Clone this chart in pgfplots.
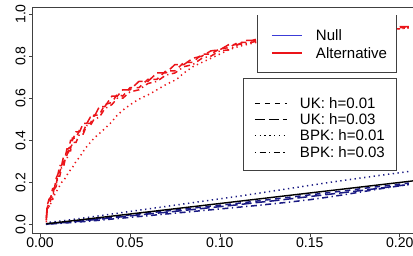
\documentclass[border=0pt]{standalone}
\usepackage{pgfplots}
\pgfplotsset{compat=1.18}
\usepackage{fontspec}
\setmainfont{Liberation Sans}
\definecolor{nullc}{RGB}{25,25,130}
\definecolor{nulll}{RGB}{60,60,215}
\definecolor{altc}{RGB}{235,20,25}
\tikzset{
 uk1/.style={dash pattern=on 5.5pt off 4.5pt},
 uk3/.style={dash pattern=on 10pt off 4pt},
 bpk1/.style={dash pattern=on 1.3pt off 3.5pt},
 bpk3/.style={dash pattern=on 1.3pt off 3.5pt on 6pt off 3.5pt},
}
\begin{document}
\begin{tikzpicture}
\begin{axis}[width=381pt, height=226pt, scale only axis,
 xmin=-0.0044, xmax=0.2079, ymin=-0.0429, ymax=1.0333,
 xtick={0,0.05,0.1,0.15,0.2}, xticklabels={0.00,0.05,0.10,0.15,0.20},
 ytick={0,0.2,0.4,0.6,0.8,1.0}, yticklabels={0.0,0.2,0.4,0.6,0.8,1.0},
 tick align=outside, major tick length=3pt, xtick pos=bottom, ytick pos=left,
 axis line style={black!75, line width=0.6pt}, tick style={black!75, line width=0.6pt},
 /pgf/number format/assume math mode=true,
 ticklabel style={font=\fontsize{14}{14}\selectfont},
 yticklabel style={rotate=90, anchor=south},
 xticklabel style={inner sep=1pt},
]
% Null curves
\addplot[nullc, line width=1.5pt, uk1] coordinates {(0.0035,0)(0.004,0.004)(0.01,0.008)(0.02,0.016)(0.03,0.026)(0.04,0.036)(0.05,0.046)(0.06,0.055)(0.07,0.064)(0.08,0.073)(0.09,0.083)(0.10,0.092)(0.11,0.101)(0.12,0.111)(0.13,0.121)(0.14,0.131)(0.15,0.141)(0.16,0.151)(0.17,0.161)(0.18,0.172)(0.19,0.182)(0.20,0.192)(0.205,0.197)};
\addplot[nullc, line width=1.5pt, uk3] coordinates {(0.0035,0)(0.004,0.003)(0.01,0.007)(0.02,0.014)(0.03,0.023)(0.04,0.032)(0.05,0.041)(0.06,0.05)(0.07,0.058)(0.08,0.067)(0.09,0.076)(0.10,0.085)(0.11,0.094)(0.12,0.104)(0.13,0.113)(0.14,0.123)(0.15,0.133)(0.16,0.143)(0.17,0.153)(0.18,0.163)(0.19,0.174)(0.20,0.185)(0.205,0.19)};
\addplot[nullc, line width=1.5pt, bpk1] coordinates {(0.0035,0)(0.004,0.01)(0.01,0.015)(0.02,0.026)(0.03,0.038)(0.04,0.05)(0.05,0.062)(0.06,0.074)(0.07,0.086)(0.08,0.098)(0.09,0.11)(0.10,0.122)(0.11,0.134)(0.12,0.147)(0.13,0.16)(0.14,0.173)(0.15,0.186)(0.16,0.199)(0.17,0.211)(0.18,0.223)(0.19,0.235)(0.20,0.246)(0.205,0.252)};
\addplot[nullc, line width=1.5pt, bpk3] coordinates {(0.0035,0)(0.004,0.002)(0.01,0.005)(0.02,0.011)(0.03,0.018)(0.04,0.026)(0.05,0.034)(0.06,0.042)(0.07,0.05)(0.08,0.058)(0.09,0.066)(0.10,0.074)(0.11,0.082)(0.12,0.09)(0.13,0.099)(0.14,0.108)(0.15,0.118)(0.16,0.13)(0.17,0.143)(0.18,0.157)(0.19,0.171)(0.20,0.184)(0.205,0.19)};
% reference diagonal
\addplot[black, line width=1.4pt] coordinates {(0.0035,0.0035)(0.2079,0.2079)};
% Alternative curves
\addplot[altc, line width=1.5pt, uk1] coordinates {(0.0035,0.02)(0.004,0.08)(0.005,0.10)(0.006,0.13)(0.007,0.13)(0.008,0.18)(0.009,0.19)(0.010,0.24)(0.011,0.25)(0.012,0.28)(0.013,0.29)(0.014,0.32)(0.015,0.33)(0.016,0.37)(0.017,0.36)(0.018,0.41)(0.020,0.41)(0.022,0.45)(0.024,0.44)(0.026,0.48)(0.028,0.48)(0.030,0.52)(0.033,0.52)(0.036,0.57)(0.040,0.58)(0.043,0.62)(0.046,0.61)(0.050,0.65)(0.055,0.65)(0.060,0.69)(0.065,0.69)(0.070,0.73)(0.075,0.73)(0.080,0.77)(0.085,0.77)(0.090,0.81)(0.095,0.81)(0.100,0.835)(0.105,0.84)(0.110,0.865)(0.115,0.865)(0.120,0.88)(0.130,0.885)(0.140,0.895)(0.150,0.905)(0.160,0.91)(0.170,0.915)(0.180,0.92)(0.190,0.93)(0.200,0.935)(0.205,0.94)};
\addplot[altc, line width=1.5pt, uk3] coordinates {(0.0035,0.03)(0.004,0.09)(0.005,0.12)(0.006,0.13)(0.007,0.17)(0.008,0.17)(0.009,0.22)(0.010,0.24)(0.011,0.28)(0.012,0.28)(0.013,0.32)(0.014,0.32)(0.015,0.36)(0.016,0.36)(0.017,0.40)(0.018,0.40)(0.020,0.44)(0.022,0.44)(0.024,0.48)(0.026,0.48)(0.028,0.51)(0.030,0.51)(0.033,0.56)(0.036,0.56)(0.040,0.61)(0.043,0.61)(0.046,0.64)(0.050,0.64)(0.055,0.68)(0.060,0.68)(0.065,0.72)(0.070,0.72)(0.075,0.76)(0.080,0.76)(0.085,0.79)(0.090,0.80)(0.095,0.825)(0.100,0.83)(0.105,0.855)(0.110,0.855)(0.115,0.875)(0.120,0.875)(0.130,0.89)(0.140,0.90)(0.150,0.905)(0.160,0.915)(0.170,0.92)(0.180,0.925)(0.190,0.93)(0.200,0.94)(0.205,0.94)};
\addplot[altc, line width=1.5pt, bpk1] coordinates {(0.0035,0.01)(0.004,0.07)(0.006,0.10)(0.008,0.14)(0.010,0.17)(0.012,0.20)(0.014,0.22)(0.016,0.25)(0.018,0.27)(0.020,0.30)(0.022,0.32)(0.025,0.36)(0.028,0.39)(0.030,0.41)(0.034,0.44)(0.039,0.48)(0.043,0.52)(0.047,0.55)(0.052,0.58)(0.056,0.60)(0.061,0.62)(0.065,0.64)(0.070,0.665)(0.076,0.69)(0.080,0.72)(0.085,0.75)(0.090,0.77)(0.095,0.79)(0.100,0.81)(0.105,0.83)(0.110,0.845)(0.115,0.855)(0.120,0.865)(0.130,0.88)(0.140,0.89)(0.150,0.90)(0.160,0.905)(0.170,0.915)(0.180,0.92)(0.190,0.925)(0.200,0.93)(0.205,0.935)};
\addplot[altc, line width=1.5pt, bpk3] coordinates {(0.0035,0.02)(0.004,0.07)(0.005,0.08)(0.006,0.12)(0.007,0.12)(0.008,0.17)(0.009,0.18)(0.010,0.23)(0.011,0.23)(0.012,0.27)(0.013,0.27)(0.014,0.31)(0.015,0.31)(0.016,0.35)(0.017,0.35)(0.018,0.39)(0.020,0.39)(0.022,0.43)(0.024,0.43)(0.026,0.47)(0.028,0.47)(0.030,0.50)(0.033,0.51)(0.036,0.55)(0.040,0.57)(0.043,0.60)(0.046,0.60)(0.050,0.63)(0.055,0.64)(0.060,0.67)(0.065,0.68)(0.070,0.71)(0.075,0.72)(0.080,0.75)(0.085,0.76)(0.090,0.79)(0.095,0.80)(0.100,0.825)(0.105,0.83)(0.110,0.855)(0.115,0.86)(0.120,0.87)(0.130,0.88)(0.140,0.89)(0.150,0.90)(0.160,0.905)(0.170,0.91)(0.180,0.92)(0.190,0.925)(0.200,0.93)(0.205,0.935)};
% legend 1
\fill[white] (axis cs:0.1206,0.995) rectangle (axis cs:0.1983,0.724);
\draw[black!75, line width=0.6pt] (axis cs:0.1206,0.995) -- (axis cs:0.1206,0.724) -- (axis cs:0.1983,0.724) -- (axis cs:0.1983,0.995);
\draw[nulll, line width=0.9pt] (axis cs:0.1289,0.900) -- (axis cs:0.1456,0.900);
\draw[altc, line width=1.5pt] (axis cs:0.1289,0.814) -- (axis cs:0.1456,0.814);
\node[anchor=west, inner sep=0pt, font=\fontsize{15}{15}\selectfont] at (axis cs:0.1533,0.900) {Null};
\node[anchor=west, inner sep=0pt, font=\fontsize{15}{15}\selectfont] at (axis cs:0.1533,0.814) {Alternative};
% legend 2
\filldraw[fill=white, draw=black!75, line width=0.6pt] (axis cs:0.1128,0.695) rectangle (axis cs:0.1983,0.257);
\draw[black, line width=1.5pt, uk1] (axis cs:0.1194,0.576) -- (axis cs:0.1372,0.576);
\draw[black, line width=1.5pt, uk3] (axis cs:0.1194,0.500) -- (axis cs:0.1372,0.500);
\draw[black, line width=1.2pt, bpk1] (axis cs:0.1194,0.424) -- (axis cs:0.1372,0.424);
\draw[black, line width=1.5pt, bpk3] (axis cs:0.1194,0.343) -- (axis cs:0.1372,0.343);
\node[anchor=west, inner sep=0pt, font=\fontsize{15}{15}\selectfont] at (axis cs:0.1444,0.576) {UK: h=0.01};
\node[anchor=west, inner sep=0pt, font=\fontsize{15}{15}\selectfont] at (axis cs:0.1444,0.500) {UK: h=0.03};
\node[anchor=west, inner sep=0pt, font=\fontsize{15}{15}\selectfont] at (axis cs:0.1444,0.424) {BPK: h=0.01};
\node[anchor=west, inner sep=0pt, font=\fontsize{15}{15}\selectfont] at (axis cs:0.1444,0.343) {BPK: h=0.03};
\end{axis}
\pgfresetboundingbox
\useasboundingbox ([xshift=-32pt,yshift=-22pt]current axis.south west) rectangle ([xshift=-1pt,yshift=7pt]current axis.north east);
\end{tikzpicture}
\end{document}
